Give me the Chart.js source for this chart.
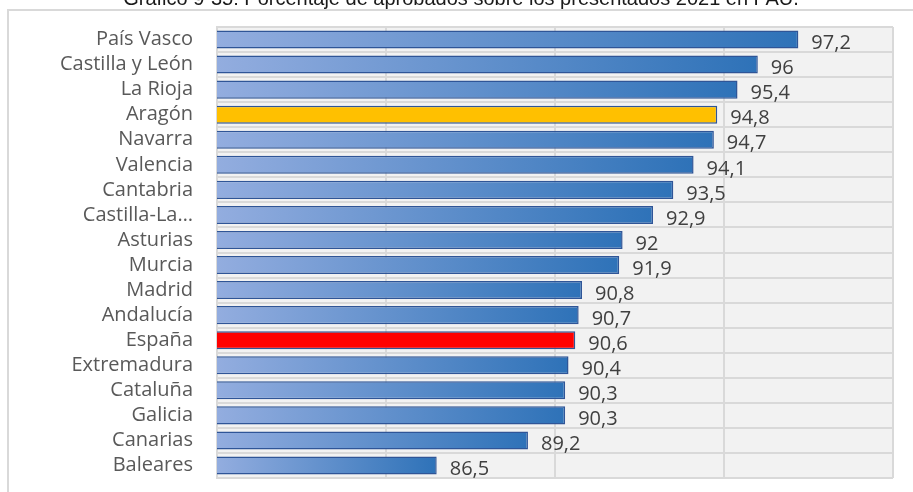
<!DOCTYPE html>
<html>
<head>
<meta charset="utf-8">
<script src="https://cdn.jsdelivr.net/npm/chart.js@4"></script>
<style>
  html, body { margin: 0; padding: 0; background: #fff; }
  #wrap { width: 913px; height: 492px; position: relative; }
</style>
</head>
<body>
<div id="wrap"><canvas id="pauChart"></canvas></div>
<script>
const titleText = "Gráfico 9-35: Porcentaje de aprobados sobre los presentados 2021 en PAU.";
const regions = ["País Vasco", "Castilla y León", "La Rioja", "Aragón", "Navarra", "Valencia",
  "Cantabria", "Castilla-La…", "Asturias", "Murcia", "Madrid", "Andalucía", "España",
  "Extremadura", "Cataluña", "Galicia", "Canarias", "Baleares"];
const aprobados = [97.2, 96, 95.4, 94.8, 94.7, 94.1, 93.5, 92.9, 92, 91.9, 90.8, 90.7, 90.6,
  90.4, 90.3, 90.3, 89.2, 86.5];
const xMin = 80, xMax = 100, xStep = 5;

const labelFont = "20px 'Open Sans'";

const frameAndTitle = {
  id: "frameAndTitle",
  beforeDraw(chart) {
    const c = chart.ctx;
    const a = chart.chartArea;
    c.save();
    c.fillStyle = "#f2f2f2";
    c.fillRect(a.left, a.top, a.right - a.left, a.bottom - a.top);
    c.strokeStyle = "#d9d9d9";
    c.lineWidth = 2;
    c.strokeRect(8, 10, 1000, 600);
    c.fillStyle = "#1a1a1a";
    c.font = "20px 'Liberation Sans'";
    c.textAlign = "center";
    c.textBaseline = "alphabetic";
    c.fillText(titleText, 461, 5);
    c.restore();
  }
};

const valueLabels = {
  id: "valueLabels",
  afterDatasetsDraw(chart) {
    const c = chart.ctx;
    const meta = chart.getDatasetMeta(0);
    c.save();
    c.font = labelFont;
    c.fillStyle = "#404040";
    c.textAlign = "left";
    c.textBaseline = "middle";
    meta.data.forEach((bar, i) => {
      const txt = String(aprobados[i]).replace(".", ",");
      c.fillText(txt, bar.x + 13, bar.y + 4);
    });
    c.restore();
  }
};

function barFill(context) {
  const chart = context.chart;
  const label = regions[context.dataIndex];
  if (label === "Aragón") return "#ffc000";
  if (label === "España") return "#ff0000";
  const area = chart.chartArea;
  if (!area) return "#5b8fd0";
  const xs = chart.scales.x;
  const end = xs.getPixelForValue(aprobados[context.dataIndex]);
  const g = chart.ctx.createLinearGradient(area.left, 0, end, 0);
  g.addColorStop(0, "#93addf");
  g.addColorStop(1, "#2e72b8");
  return g;
}

new Chart(document.getElementById("pauChart"), {
  type: "bar",
  data: {
    labels: regions,
    datasets: [{
      data: aprobados,
      backgroundColor: barFill,
      borderColor: "#2f5597",
      borderWidth: 1.5,
      borderSkipped: false,
      categoryPercentage: 1,
      barPercentage: 0.72
    }]
  },
  options: {
    indexAxis: "y",
    responsive: true,
    maintainAspectRatio: false,
    animation: false,
    layout: { padding: { top: 27, right: 20, bottom: 14, left: 0 } },
    plugins: { legend: { display: false }, tooltip: { enabled: false } },
    scales: {
      x: {
        min: xMin,
        max: xMax,
        afterFit(scale) { scale.height = 0; scale.paddingLeft = 0; scale.paddingRight = 0; },
        ticks: { display: false, stepSize: xStep },
        grid: { color: "#d9d9d9", lineWidth: 2, drawTicks: false },
        border: { display: false }
      },
      y: {
        afterFit(scale) { scale.width = 217; scale.paddingTop = 0; scale.paddingBottom = 0; },
        ticks: {
          padding: 24,
          color: "#595959",
          font: { family: "'Open Sans'", size: 20 },
          autoSkip: false
        },
        grid: { color: "#d9d9d9", lineWidth: 2, drawTicks: false },
        border: { color: "#d9d9d9", width: 2 }
      }
    }
  },
  plugins: [frameAndTitle, valueLabels]
});
</script>
</body>
</html>
